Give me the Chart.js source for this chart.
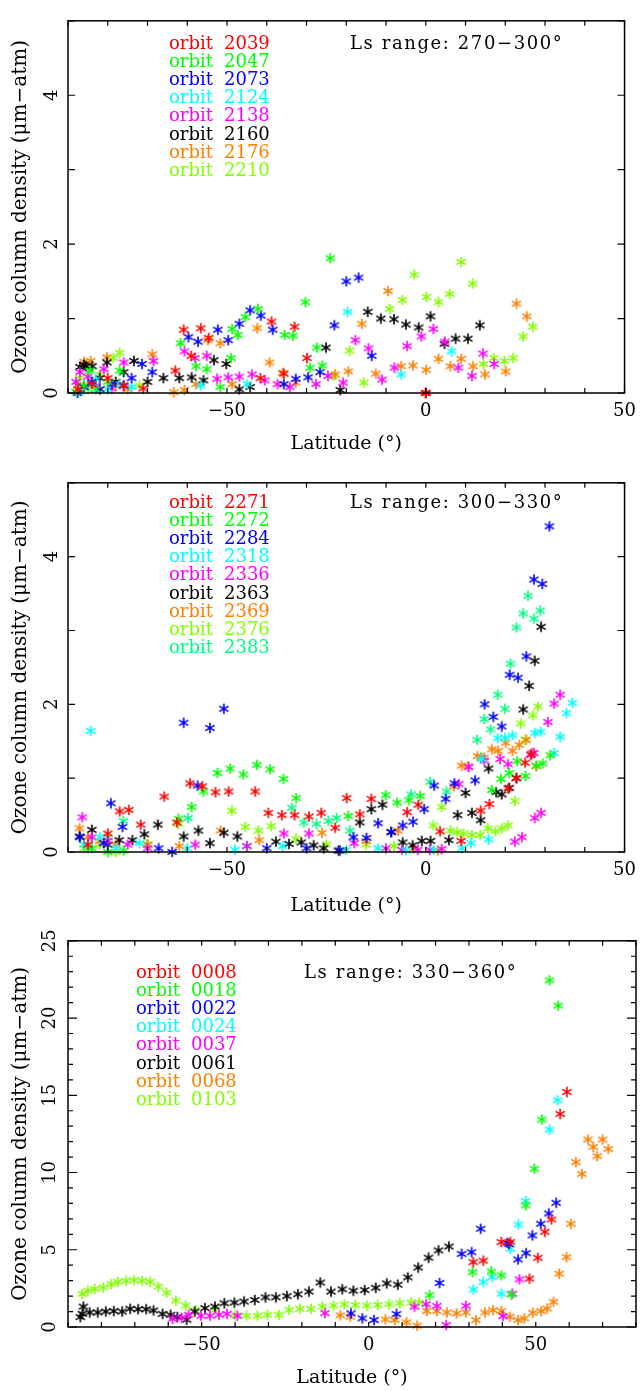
<!DOCTYPE html>
<html>
<head>
<meta charset="utf-8">
<script src="https://cdn.jsdelivr.net/npm/chart.js@4.4.1/dist/chart.umd.min.js"></script>
<style>
  body { margin: 0; background: #fff; width: 644px; height: 1391px; position: relative; overflow: hidden; }
  canvas { position: absolute; left: 0; }
</style>
</head>
<body>
<canvas id="p1" style="top:0px"></canvas>
<canvas id="p2" style="top:462px"></canvas>
<canvas id="p3" style="top:924px"></canvas>
<script>
// ---- data: [latitude, ozone column] pairs ----
var orbit2039 = [[-87.5,0.05],[-84,0.12],[-80,0.2],[-76,0.1],[-71.1,0.06],[-63,0.30],[-60.9,0.85],[-59,0.50],[-56.6,0.87],[-54.6,0.74],[-41.6,0.20],[-38.8,0.96],[-35.7,0.26],[-33,0.89],[-29.9,0.47],[0,0],[0,0],[0,0]];
var orbit2047 = [[-88,0.02],[-86,0.1],[-84.5,0.3],[-83,0.05],[-80,0.15],[-77,0.3],[-61.7,0.67],[-57.8,0.36],[-55.1,0.32],[-51.7,0.08],[-49,0.47],[-48.7,0.86],[-47.3,0.78],[-45.4,1.02],[-42.2,1.13],[-35.5,0.78],[-33.4,0.77],[-30.3,1.22],[-29.1,0.34],[-27.4,0.61],[-26,0.37],[-24,1.81]];
var orbit2073 = [[-87.6,0.0],[-86,0.08],[-84,0.15],[-82,0.05],[-79,0.12],[-76,0.1],[-74,0.2],[-71.4,0.39],[-68.8,0.28],[-59.7,0.75],[-57.3,0.69],[-52.3,0.85],[-49.7,0.71],[-46.9,0.93],[-44.2,1.11],[-41.5,1.04],[-38.5,0.85],[-35.7,0.12],[-32.7,0.19],[-29.6,0.21],[-26.6,0.28],[-23,0.91],[-20,1.5],[-16.9,1.55],[-13.6,0.5]];
var orbit2124 = [[-87,0.02],[-85,0.1],[-83,0.18],[-80,0.05],[-77,0.12],[-74,0.08],[-56.6,0.10],[-44.9,0.12],[-19.7,1.09],[-6.2,0.25],[6.5,0.56]];
var orbit2138 = [[-88,0.15],[-87,0.28],[-85,0.22],[-83,0.1],[-81,0.32],[-79,0.06],[-76,0.41],[-68.5,0.43],[-60.7,0.56],[-58.1,0.47],[-55.1,0.5],[-52.5,0.19],[-49.7,0.21],[-46.9,0.22],[-43.7,0.25],[-40.5,0.17],[-37.3,0.12],[-34.2,0.08],[-27.6,0.12],[-24.6,0.23],[-20.8,0.14],[-17.7,0.71],[-14.4,0.6],[-11,0.18],[-7.9,0.34],[-4.7,0.63],[-1.1,0.76],[1.9,0.86],[4.8,0.69],[8.2,0.34],[11.6,0.23],[14.4,0.53],[17.2,0.39]];
var orbit2160 = [[-87,0.35],[-86,0.38],[-85.5,0.36],[-83.9,0.36],[-82,0.2],[-80.2,0.41],[-78,0.15],[-76,0.28],[-73.4,0.43],[-70,0.15],[-66,0.2],[-62,0.2],[-58.9,0.21],[-55.9,0.17],[-53.3,0.44],[-50.2,0.39],[-46.9,0.05],[-44.2,0.08],[-25.1,0.61],[-21.5,0.04],[-14.6,1.09],[-11.3,1.0],[-8,0.99],[-5,0.92],[-1.8,0.88],[1.2,1.03],[4.7,0.66],[7.5,0.73],[10.6,0.73],[13.6,0.91]];
var orbit2176 = [[-87.5,0.1],[-86,0.42],[-84.3,0.43],[-82,0.05],[-80.2,0.48],[-78,0.1],[-75,0.05],[-68.8,0.52],[-63.4,0.01],[-60.7,0.04],[-57.8,0.12],[-54.8,0.71],[-51.7,0.67],[-48.7,0.12],[-42.4,0.87],[-39.3,0.41],[-36,0.27],[-32.7,0.14],[-22.8,0.25],[-19.5,0.29],[-16.1,0.93],[-12.6,0.26],[-9.5,1.37],[-6.2,0.36],[-3.2,0.37],[0.1,0.31],[3.2,0.46],[6.2,0.36],[8.9,0.46],[11.9,0.36],[14.9,0.25],[20.1,0.29],[22.8,1.2],[25.4,1.03]];
var orbit2210 = [[-87,0.2],[-85,0.05],[-82,0.25],[-78.6,0.47],[-77,0.54],[-72,0.1],[-23.2,0.23],[-19.2,0.57],[-15.6,0.14],[-9.1,1.13],[-5.9,1.25],[-2.9,1.59],[0.2,1.29],[3.2,1.22],[6,1.33],[8.9,1.76],[11.8,1.47],[14.5,0.39],[17.1,0.47],[19.8,0.43],[22,0.47],[24.5,0.76],[26.9,0.89]];

var orbit2271 = [[-85,0.1],[-80,0.25],[-77,0.55],[-74.7,0.57],[-71.7,0.37],[-65.8,0.75],[-62.6,0.4],[-59.3,0.93],[-56.2,0.89],[-52.9,0.81],[-49.6,0.82],[-42.9,0.82],[-39.6,0.53],[-36.2,0.5],[-33,0.5],[-29.4,0.48],[-26.3,0.53],[-22.8,0.33],[-19.9,0.73],[-16.6,0.51],[-13.7,0.72],[-4.7,0.54],[-1.9,0.64],[3.6,0.28],[8.9,0.15],[13.8,0.56],[16,0.65],[20.7,0.86],[22.8,1.0],[25,1.21],[26.5,1.32]];
var orbit2272 = [[-84,0.05],[-80,0.0],[-76,0.02],[-62.2,0.45],[-58.9,0.61],[-55.9,0.82],[-52.4,1.07],[-49.2,1.13],[-45.9,1.05],[-42.5,1.18],[-39.2,1.12],[-35.8,0.99],[-32.6,0.73],[-19.5,0.49],[-10.1,0.77],[-7.2,0.67],[-4.3,0.7],[-1.4,0.76],[16.6,0.84],[18.9,0.99],[21,1.07],[23,1.23],[25.1,1.03],[27.8,1.17],[29.4,1.2],[31.3,1.31]];
var orbit2284 = [[-87,0.2],[-81,0.12],[-79.2,0.66],[-76.3,0.34],[-67.2,0.05],[-63.8,0.0],[-60.9,1.75],[-57.4,0.9],[-54.3,1.68],[-50.8,1.94],[-40,0.05],[-30,0.05],[-21.6,0.02],[-18.2,0.2],[-14.9,0.19],[-12,0.39],[-8.7,0.27],[-5.8,0.36],[-3.2,0.41],[-0.4,0.58],[2.1,0.9],[5,0.72],[7.2,0.93],[12.4,0.97],[14.8,2.0],[17,1.83],[19.1,1.7],[21.1,2.4],[23.2,2.36],[25.3,2.65],[27.2,3.69],[29.3,3.63],[31.1,4.41]];
var orbit2318 = [[-84.3,1.64],[-86,0.1],[-82,0.2],[-78,0.05],[-72,0.12],[-60,0.05],[-48,0.03],[-36,0.08],[-20,0.03],[-12,0.05],[-5,0.02],[2,0.03],[9.1,0.05],[11.4,0.12],[14.1,1.26],[15.8,0.17],[18.1,1.54],[19.9,1.55],[21.8,1.58],[27.4,1.61],[28.9,1.63],[32.3,1.34],[33.8,1.56],[35.4,1.88],[36.9,2.02]];
var orbit2336 = [[-86.4,0.47],[-84,0.2],[-80,0.15],[-75,0.1],[-70,0.05],[-58,0.1],[-45,0.08],[-35.7,0.25],[-29.4,0.25],[-18,0.12],[-10,0.05],[-6,0.03],[-2,0.03],[1,0.03],[4,0.04],[8.3,0.92],[10.8,1.15],[14.7,1.24],[18.7,1.26],[20.7,1.19],[22.4,0.14],[24.2,0.2],[26.4,1.32],[27.2,1.34],[27.4,0.46],[29,0.53],[30.7,1.76],[32.3,2.01],[33.8,2.13]];
var orbit2363 = [[-87.1,0.21],[-84,0.3],[-80,0.1],[-77.1,0.16],[-73.8,0.16],[-70.8,0.24],[-67.4,0.37],[-60.9,0.21],[-57.2,0.29],[-54.3,0.12],[-50.8,0.26],[-47.4,0.21],[-37.7,0.14],[-34.4,0.11],[-31.3,0.13],[-28.2,0.09],[-25.7,0.05],[-22,0.02],[-16.6,0.4],[-13.7,0.58],[-10.9,0.64],[-8.7,0.27],[-5.8,0.13],[-3.3,0.09],[-1,0.15],[1.2,0.15],[5.8,0.16],[8,0.5],[10,0.8],[11.6,0.53],[13.8,0.43],[15.8,1.13],[17.7,0.81],[19.1,0.78],[21,0.87],[22.8,1.0],[24.5,1.93],[26,2.25],[27.4,2.59],[29,3.05]];
var orbit2369 = [[-87.1,0.32],[-85,0.2],[-82,0.15],[-78,0.1],[-70,0.1],[-62,0.08],[-51.6,0.29],[-41.9,0.16],[-26.1,0.26],[-15,0.15],[-7,0.29],[-3,0.05],[3,0.02],[7,0.89],[9,1.17],[10.6,1.16],[13,1.3],[14.7,1.28],[16.6,1.39],[18.2,1.37],[20.1,1.48],[21.8,1.37],[23.5,1.45],[25.3,1.52],[26.8,1.34],[27.8,1.16]];
var orbit2376 = [[-86,0.05],[-82,0.1],[-78,0.0],[-70,0.1],[-62.2,0.38],[-48.8,0.56],[-45.4,0.34],[-42.1,0.29],[-38.9,0.35],[-32.7,0.18],[-25,0.1],[-15,0.1],[-8,0.08],[1.9,0.36],[4,0.61],[6.2,0.29],[7.9,0.27],[9.5,0.25],[11.6,0.23],[13.7,0.23],[15.6,0.32],[17.5,0.28],[19.1,0.32],[20.7,0.36],[22.4,0.69],[23.9,1.74],[25,1.52],[26.9,1.85],[28.2,1.97]];
var orbit2383 = [[-85,0.05],[-80,0.2],[-76.1,0.42],[-70,0.1],[-59.8,0.46],[-45,0.08],[-33.7,0.6],[-30.7,0.4],[-27.5,0.38],[-24.5,0.42],[-22.4,0.46],[-19.1,0.29],[-3.7,0.78],[1.1,0.95],[5.2,0.82],[12.9,1.52],[13.9,1.28],[14.7,1.8],[16.3,1.66],[18.1,2.13],[19.9,1.94],[21.3,2.55],[22.8,3.04],[24.5,3.23],[25.7,3.47],[27.2,3.16],[28.8,3.27]];

var orbit0008 = [[31.3,4.2],[34.3,4.3],[39.7,5.5],[42.4,5.5],[48.1,3.13],[50.6,4.48],[52.7,6.16],[54.7,6.96],[57.3,13.79],[59.3,15.22]];
var orbit0018 = [[18.2,2.06],[31.1,3.55],[36.7,3.6],[39.7,3.34],[42.7,2.1],[47,7.87],[49.6,10.24],[51.8,13.43],[54.1,22.44],[56.7,20.8]];
var orbit0022 = [[-5.3,0.88],[-1.9,0.56],[1.6,0.45],[8.3,0.84],[21.2,2.85],[27.8,4.73],[30.8,4.84],[33.5,6.36],[41.5,5.45],[42,5.37],[44.7,4.37],[47.1,4.78],[49,5.93],[51.5,6.68],[53.9,7.35],[56.1,8.04]];
var orbit0024 = [[31.3,2.42],[34.3,2.91],[37,3.23],[39.7,2.16],[42.4,5.05],[44.8,6.64],[47,8.15],[54.1,12.78],[56.5,14.68]];
var orbit0037 = [[-58.7,0.53],[-56,0.6],[-53.9,0.79],[-50.2,0.73],[-47.5,0.73],[-44.8,0.79],[-42.4,0.85],[-39.3,0.73],[-13.1,0.9],[13.7,1.31],[17.2,1.48],[20.4,1.37],[23.2,0.13],[29.1,1.37],[40.2,0.71],[43,2.16],[45.1,3.08]];
var orbit0061 = [[-86.3,0.64],[-85.7,0.85],[-85.4,1.32],[-83.5,0.94],[-81.1,0.94],[-78.7,1.0],[-76.3,1.03],[-73.8,1.0],[-71.4,1.18],[-69,1.15],[-66.6,1.15],[-64.4,1.07],[-61.7,0.85],[-59.3,0.79],[-57.3,0.64],[-54.5,0.47],[-52.1,1.0],[-49,1.22],[-46,1.32],[-43.2,1.54],[-40.2,1.58],[-37.3,1.65],[-34.1,1.75],[-30.9,1.92],[-27.8,1.92],[-24.5,2.0],[-21.2,2.12],[-17.9,2.29],[-14.5,2.88],[-11.3,2.29],[-7.9,2.44],[-4.6,2.35],[-1.2,2.39],[2.1,2.54],[5.4,2.82],[8.7,2.74],[11.7,3.21],[14.8,3.85],[17.9,4.49],[20.9,4.96],[24,5.21]];
var orbit0068 = [[-8.5,0.75],[-5.5,0.66],[5,0.49],[7.8,0.45],[11.3,0.3],[14.5,0.09],[17.4,1.03],[20.4,1.03],[23.4,0.94],[26.3,0.88],[29.1,0.94],[32.1,0.45],[34.8,0.94],[37.2,1.09],[39.7,1.03],[42.2,0.66],[44.7,0.45],[46.6,0.56],[49.1,0.92],[51.6,1.03],[53.4,1.2],[55.3,1.63],[57,3.45],[59.2,4.52],[60.5,6.68],[62,10.67],[63.8,9.91],[65.6,12.13],[67.2,11.66],[68.4,11.06],[70,12.13],[71.7,11.53]];
var orbit0103 = [[-85.7,2.14],[-84.1,2.35],[-82,2.46],[-79.5,2.56],[-77.1,2.78],[-75.1,2.93],[-72.6,2.99],[-70.2,3.03],[-67.8,2.99],[-65.4,2.93],[-63,2.61],[-60.5,2.22],[-57.7,1.71],[-54.8,1.39],[-51.8,1.07],[-46,1.11],[-40,0.73],[-36.6,0.73],[-33.3,0.73],[-30.3,0.79],[-26.9,0.79],[-23.8,1.11],[-20.6,1.18],[-17.3,1.18],[-13.9,1.32],[-10.5,1.39],[-7.3,1.47],[-4,1.43],[-0.6,1.39],[2.7,1.43],[6.1,1.47],[9.3,1.54],[12.7,1.58],[15.1,1.58]];

var orbits1 = ['2039', '2047', '2073', '2124', '2138', '2160', '2176', '2210'];
var series1 = [orbit2039, orbit2047, orbit2073, orbit2124, orbit2138, orbit2160, orbit2176, orbit2210];
var orbits2 = ['2271', '2272', '2284', '2318', '2336', '2363', '2369', '2376', '2383'];
var series2 = [orbit2271, orbit2272, orbit2284, orbit2318, orbit2336, orbit2363, orbit2369, orbit2376, orbit2383];
var orbits3 = ['0008', '0018', '0022', '0024', '0037', '0061', '0068', '0103'];
var series3 = [orbit0008, orbit0018, orbit0022, orbit0024, orbit0037, orbit0061, orbit0068, orbit0103];

var xLabels = [-50, 0, 50];
var yLabels12 = [0, 2, 4];
var yLabels3 = [0, 5, 10, 15, 20, 25];

var colors = ['#ff0000', '#00ff00', '#0000ff', '#00ffff', '#ff00ff', '#000000', '#ff8000', '#80ff00', '#00ff80'];

var FONT = '"DejaVu Serif", "Liberation Serif", serif';

// six-armed asterisk like the pgplot marker
function asterisk(color) {
  var c = document.createElement('canvas');
  c.width = 14; c.height = 14;
  var g = c.getContext('2d');
  g.strokeStyle = color;
  g.lineWidth = 1.6;
  g.beginPath();
  for (var k = 0; k < 3; k++) {
    var a = Math.PI / 2 + k * Math.PI / 3;
    var dx = 5.3 * Math.cos(a), dy = 5.3 * Math.sin(a);
    g.moveTo(7 - dx, 7 - dy);
    g.lineTo(7 + dx, 7 + dy);
  }
  g.stroke();
  return c;
}

function minus(v) {
  return v < 0 ? '\u2212' + Math.abs(v) : String(v);
}

var framePlugin = {
  id: 'frame',
  afterDraw: function(chart, args, o) {
    var ctx = chart.ctx, a = chart.chartArea;
    var xs = chart.scales.x, ys = chart.scales.y;
    ctx.save();
    ctx.strokeStyle = '#000';
    ctx.lineWidth = 1.5;
    ctx.strokeRect(a.left, a.top, a.right - a.left, a.bottom - a.top);
    ctx.lineWidth = 1.2;
    ctx.beginPath();
    xs.ticks.forEach(function(t) {
      var px = xs.getPixelForValue(t.value);
      var len = t.label !== '' ? o.xMajor : o.xMinor;
      ctx.moveTo(px, a.bottom); ctx.lineTo(px, a.bottom - len);
      ctx.moveTo(px, a.top); ctx.lineTo(px, a.top + len);
    });
    ys.ticks.forEach(function(t) {
      var py = ys.getPixelForValue(t.value);
      var len = t.label !== '' ? o.yMajor : o.yMinor;
      ctx.moveTo(a.left, py); ctx.lineTo(a.left + len, py);
      ctx.moveTo(a.right, py); ctx.lineTo(a.right - len, py);
    });
    ctx.stroke();

    ctx.font = '18px ' + FONT;
    ctx.textBaseline = 'middle';
    chart.data.datasets.forEach(function(d, i) {
      ctx.fillStyle = d.textColor;
      ctx.fillText('orbit', o.legendX, o.legendY + i * 18.2);
      ctx.fillText(d.label, o.legendX + 55, o.legendY + i * 18.2);
    });
    ctx.fillStyle = '#000';
    ctx.letterSpacing = '1.6px';
    ctx.fillText(o.title, o.titleX, o.legendY);
    ctx.restore();
  }
};

function panel(id, h, orbits, series, cfg) {
  var canvas = document.getElementById(id);
  canvas.width = 644; canvas.height = h;
  var datasets = orbits.map(function(name, i) {
    return {
      label: name,
      data: series[i].map(function(p) { return {x: p[0], y: p[1]}; }),
      pointStyle: asterisk(colors[i]),
      borderColor: colors[i],
      textColor: colors[i],
      showLine: false,
      clip: false
    };
  });
  return new Chart(canvas.getContext('2d'), {
    type: 'scatter',
    data: {datasets: datasets},
    plugins: [framePlugin],
    options: {
      responsive: false,
      animation: false,
      devicePixelRatio: 1,
      layout: {padding: {left: 0, top: cfg.top, right: cfg.right, bottom: 0}},
      plugins: {
        legend: {display: false},
        tooltip: {enabled: false},
        frame: cfg.frame
      },
      scales: {
        x: {
          type: 'linear', min: -90, max: cfg.xMax,
          afterFit: function(s) { s.height = cfg.xHeight; },
          grid: {display: false, drawTicks: false},
          border: {display: false},
          ticks: {
            stepSize: 10, autoSkip: false, maxRotation: 0, padding: 8,
            color: '#000', font: {family: FONT, size: 18},
            callback: function(v) { return xLabels.indexOf(v) >= 0 ? minus(v) : ''; }
          },
          title: {
            display: true, text: 'Latitude (\u00b0)', color: '#000',
            font: {family: FONT, size: 19}, padding: {top: 0, bottom: cfg.xTitlePad}
          }
        },
        y: {
          type: 'linear', min: 0, max: cfg.yMax,
          afterFit: function(s) { s.width = 68; },
          grid: {display: false, drawTicks: false},
          border: {display: false},
          ticks: {
            stepSize: 1, autoSkip: false, minRotation: 90, maxRotation: 90,
            crossAlign: 'center', padding: cfg.yTickPad,
            color: '#000', font: {family: FONT, size: 18},
            callback: function(v) { return cfg.yLabels.indexOf(v) >= 0 ? String(v) : ''; }
          },
          title: {
            display: true, text: 'Ozone column density (\u03bcm\u2212atm)', color: '#000',
            font: {family: FONT, size: 20}, padding: {top: 9, bottom: 0}
          }
        }
      }
    }
  });
}

panel('p1', 462, orbits1, series1, {
  top: 15, right: 13, xMax: 50, yMax: 5, xHeight: 69, xTitlePad: 7, yTickPad: 10, yLabels: yLabels12,
  frame: {xMajor: 5, xMinor: 5, yMajor: 7, yMinor: 7, legendX: 169, legendY: 44, title: 'Ls range: 270\u2212300\u00b0', titleX: 350}
});
panel('p2', 462, orbits2, series2, {
  top: 10, right: 13, xMax: 50, yMax: 5, xHeight: 72, xTitlePad: 7, yTickPad: 10, yLabels: yLabels12,
  frame: {xMajor: 5, xMinor: 5, yMajor: 7, yMinor: 7, legendX: 169, legendY: 41, title: 'Ls range: 300\u2212330\u00b0', titleX: 350}
});
panel('p3', 467, orbits3, series3, {
  top: 14, right: 3, xMax: 80, yMax: 25, xHeight: 64, xTitlePad: 2, yTickPad: 6, yLabels: yLabels3,
  frame: {xMajor: 5, xMinor: 5, yMajor: 9, yMinor: 5, legendX: 136, legendY: 49, title: 'Ls range: 330\u2212360\u00b0', titleX: 304}
});
</script>
</body>
</html>
